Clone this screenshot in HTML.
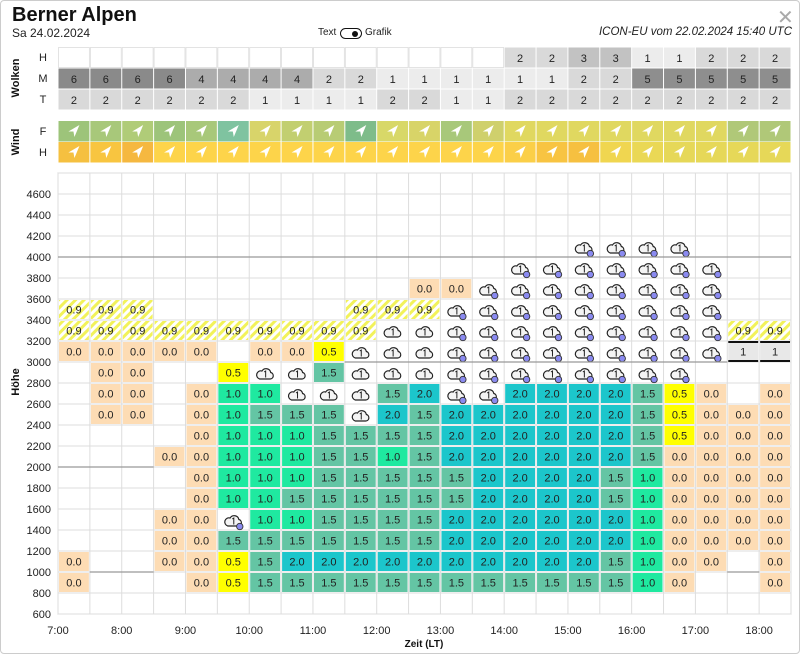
<!DOCTYPE html>
<html><head><meta charset="utf-8">
<style>
html,body{margin:0;padding:0;background:#fff;}
body{width:800px;height:654px;overflow:hidden;position:relative;font-family:"Liberation Sans",sans-serif;}
.t{position:absolute;white-space:nowrap;color:#111;}
</style></head>
<body>
<div style="position:absolute;left:0;top:0;width:798px;height:652px;border:1px solid #ccc;border-radius:4px;"></div>
<div class="t" style="left:12px;top:4px;font-size:20px;font-weight:bold;">Berner Alpen</div>
<div class="t" style="left:12px;top:26px;font-size:12px;color:#222;">Sa 24.02.2024</div>
<div class="t" style="left:318px;top:27px;font-size:10px;color:#222;">Text</div>
<div style="position:absolute;left:340px;top:28px;width:20px;height:9px;border:1.5px solid #111;border-radius:6px;"></div>
<div style="position:absolute;left:352px;top:31px;width:6px;height:6px;background:#111;border-radius:50%;"></div>
<div class="t" style="left:365px;top:27px;font-size:10px;color:#222;">Grafik</div>
<div class="t" style="right:8px;top:26px;font-size:11.5px;font-style:italic;color:#222;">ICON-EU vom 22.02.2024 15:40 UTC</div>
<div class="t" style="left:777px;top:5px;font-size:20px;color:#aaa;">✕</div>
<svg id="s" width="800" height="654" style="position:absolute;left:0;top:0;" xmlns="http://www.w3.org/2000/svg"></svg>
<script>
(function(){
var S=document.getElementById('s'),h='';
var X0=58,W=31.87,N=23;
function cx(i){return X0+W*i;}
function rect(x,y,w,hh,f,extra){h+='<rect x="'+x+'" y="'+y+'" width="'+w+'" height="'+hh+'" fill="'+f+'" '+(extra||'')+'/>';}
function txt(x,y,s,sz,extra){h+='<text x="'+x+'" y="'+y+'" font-size="'+sz+'" font-family="Liberation Sans, sans-serif" '+(extra||'')+'>'+s+'</text>';}
h+='<defs><pattern id="hp" width="6" height="6" patternUnits="userSpaceOnUse" patternTransform="rotate(45)"><rect width="6" height="6" fill="#fff"/><rect width="3" height="6" fill="#f2f25a"/></pattern></defs>';
txt(19,78,'Wolken',11,'font-weight="bold" text-anchor="middle" transform="rotate(-90 19 78)" fill="#111"');
txt(19,142,'Wind',11,'font-weight="bold" text-anchor="middle" transform="rotate(-90 19 142)" fill="#111"');
txt(19,382,'Höhe',11,'font-weight="bold" text-anchor="middle" transform="rotate(-90 19 382)" fill="#111"');
var gc={'':'#fff','1':'#ececec','2':'#d9d9d9','3':'#c2c2c2','4':'#acacac','5':'#8e8e8e','6':'#8a8a8a'};
var WH=['','','','','','','','','','','','','','','2','2','3','3','1','1','2','2','2'];
var WM='6,6,6,6,4,4,4,4,2,2,1,1,1,1,1,1,2,2,5,5,5,5,5'.split(',');
var WT='2,2,2,2,2,2,1,1,1,1,2,2,1,1,2,2,2,2,2,2,2,2,2'.split(',');
var rows=[['H',WH,47],['M',WM,68],['T',WT,89]];
rows.forEach(function(r){
 txt(43,r[2]+14,r[0],11,'text-anchor="middle" fill="#222"');
 for(var i=0;i<N;i++){rect(cx(i)+0.5,r[2]+0.5,W-1,20,gc[r[1][i]],r[1][i]==''?'stroke="#ddd" stroke-width="0.8"':'');
  if(r[1][i])txt(cx(i)+W/2,r[2]+15,r[1][i],11,'text-anchor="middle" fill="#222"');}
});
var WF=['#9dc47a','#a8c87a','#b0cc78','#9dc47a','#a8c87a','#7fc3a0','#d8d46a','#c2cf70','#b8cc74','#7ebc8a','#d8d868','#d8d468','#a8c87a','#cfd06c','#e0d860','#e0d860','#e0d860','#e0d860','#e0d860','#e0d860','#e0d860','#b0c878','#b0c878'];
var WHc=['#f5c040','#f8c540','#f5b840','#fdd44a','#fdd44a','#fdd44a','#fdd44a','#fdd44a','#fdd44a','#fdd44a','#fdd44a','#fdd44a','#fdd44a','#fdd44a','#fbcf48','#f8c442','#f6c040','#f0d650','#ead855','#e6d858','#e6d858','#e6d858','#e6d858'];
function arrow(x,y){h+='<polygon points="'+(x+5.5)+','+(y-6)+' '+(x-5.5)+','+(y+0.5)+' '+(x-0.5)+','+(y+0.5)+' '+(x+0.5)+','+(y+6)+'" fill="#fff"/>';}
txt(43,135,'F',11,'text-anchor="middle" fill="#222"');
txt(43,156,'H',11,'text-anchor="middle" fill="#222"');
for(var i=0;i<N;i++){rect(cx(i)+0.5,121,W-1,20.5,WF[i]);arrow(cx(i)+W/2,131);rect(cx(i)+0.5,142,W-1,20.5,WHc[i]);arrow(cx(i)+W/2,152);}
function Y(hh){return 194+(4600-hh)/200*21;}
var yTop=Y(4800),yBot=Y(600);
rect(X0,yTop,W*N,yBot-yTop,'#fff','stroke="#ccc" stroke-width="1"');
for(var i=0;i<=N;i++)h+='<line x1="'+cx(i)+'" y1="'+yTop+'" x2="'+cx(i)+'" y2="'+yBot+'" stroke="#ddd" stroke-width="1"/>';
for(var v=600;v<=4800;v+=200)h+='<line x1="'+X0+'" y1="'+Y(v)+'" x2="'+(X0+W*N)+'" y2="'+Y(v)+'" stroke="#ddd" stroke-width="1"/>';
for(var v=600;v<=4600;v+=200)txt(51,Y(v)+4,v,11,'text-anchor="end" fill="#222"');
var D={
4200:'_ _ _ _ _ _ _ _ _ _ _ _ _ _ _ _ d d d d _ _ _',
4000:'_ _ _ _ _ _ _ _ _ _ _ _ _ _ d d d d d d d _ _',
3800:'_ _ _ _ _ _ _ _ _ _ _ 0 0 d d d d d d d d _ _',
3600:'9 9 9 _ _ _ _ _ _ 9 9 9 d d d d d d d d d _ _',
3400:'9 9 9 9 9 9 9 9 9 9 c c d d d d d d d d d 9 9',
3200:'0 0 0 0 0 _ 0 0 5 c c c d d d d d d d d d g g',
3000:'_ 0 0 _ _ 5 c c 15 c c c d d d d d d d d _ _ _',
2800:'_ 0 0 _ 0 1 1 c c c 15 2 d d 2 2 2 2 15 5 0 _ 0',
2600:'_ 0 0 _ 0 1 15 15 15 c 2 15 2 2 2 2 2 2 15 5 0 0 0',
2400:'_ _ _ _ 0 1 1 1 15 15 15 15 2 2 2 2 2 2 15 5 0 0 0',
2200:'_ _ _ 0 0 1 1 1 15 15 1 15 2 2 2 2 2 2 15 0 0 0 0',
2000:'_ _ _ _ 0 1 1 1 15 15 15 15 15 2 2 2 2 15 1 0 0 0 0',
1800:'_ _ _ _ 0 1 1 15 15 15 15 15 15 2 2 2 2 15 1 0 0 0 0',
1600:'_ _ _ 0 0 d 1 1 15 15 15 15 2 2 2 2 2 2 1 0 0 0 0',
1400:'_ _ _ 0 0 15 15 15 15 15 15 15 2 2 2 2 2 2 1 0 0 0 0',
1200:'0 _ _ 0 0 5 15 2 2 2 2 2 2 2 2 2 2 15 1 0 0 _ 0',
1000:'0 _ _ _ 0 5 15 15 15 15 15 15 15 15 15 15 15 15 1 0 _ _ 0'};
var C={'0':['#fddcb4','0.0'],'5':['#ffff00','0.5'],'1':['#1fe9a0','1.0'],'15':['#64c5a4','1.5'],'2':['#1cc6cb','2.0'],'9':['url(#hp)','0.9'],'g':['#e8e8e8','1']};
function cloud(x,y,dot){
 h+='<g transform="translate('+(x-10)+','+(y-8)+')"><path d="M4.5,14.5 H15 A3.3,3.3 0 0 0 15.6,8 A4.8,4.8 0 0 0 6.8,6.5 A4,4 0 0 0 4.5,14.5 Z" fill="#f4f4f4" stroke="#222" stroke-width="1.2"/><path d="M9,7.5 L10.5,6.5 V13" fill="none" stroke="#222" stroke-width="1"/>';
 if(dot)h+='<circle cx="16.5" cy="15" r="3.2" fill="#8a8af0" stroke="#333" stroke-width="0.9"/>';
 h+='</g>';}
for(var k in D){var a=D[k].split(' '),yt=Y(+k);
 for(var i=0;i<N;i++){var c=a[i],x=cx(i);
  if(c=='_')continue;
  if(c=='c'||c=='d'){cloud(x+W/2,yt+10.5,c=='d');continue;}
  rect(x+1,yt+1,W-2,19,C[c][0]);
  if(c=='g'){rect(x+1,yt,W-2,2,'#111');rect(x+1,yt+19,W-2,2,'#111');}
  txt(x+W/2,yt+14.5,C[c][1],11,'text-anchor="middle" fill="#222"');}}
function gl(v,i0,i1){h+='<line x1="'+cx(i0)+'" y1="'+Y(v)+'" x2="'+cx(i1)+'" y2="'+Y(v)+'" stroke="#999" stroke-width="1.3"/>';}
gl(4000,0,23);gl(2000,0,3);gl(1000,1,3);gl(1000,21,22);gl(3000,9,21);
for(var t=7;t<=18;t++)txt(cx((t-7)*2),634,t+':00',11,'text-anchor="middle" fill="#222"');
txt(424,647,'Zeit (LT)',10,'text-anchor="middle" font-weight="bold" fill="#111"');
S.innerHTML=h;
})();
</script>
</body></html>
